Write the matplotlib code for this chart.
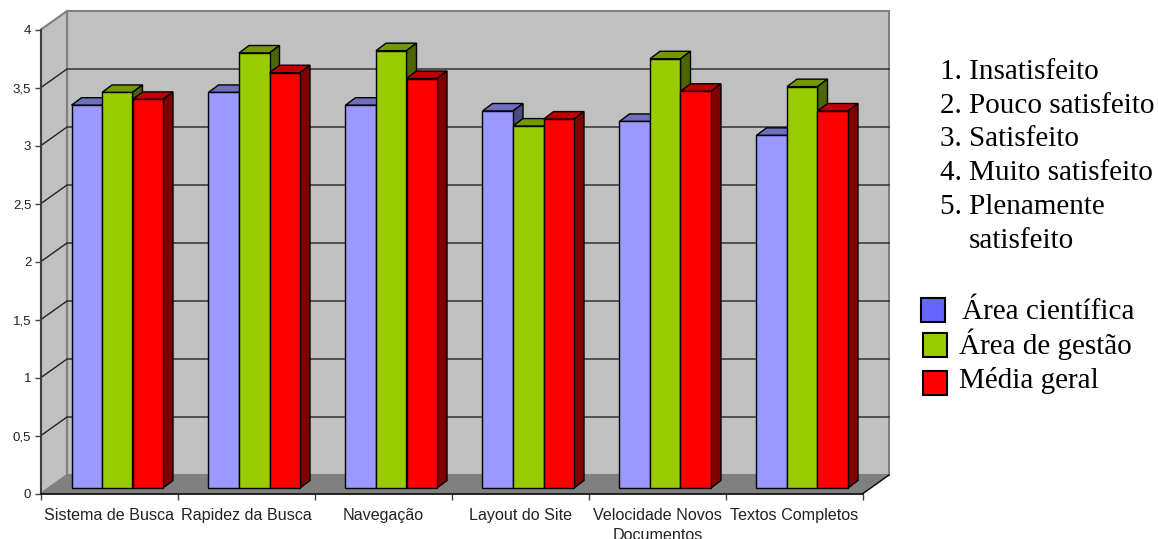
import numpy as np
import matplotlib.pyplot as plt
from matplotlib.patches import Polygon, Rectangle

W, H = 1158, 539

categorias = ['Sistema de Busca', 'Rapidez da Busca', 'Navegação', 'Layout do Site',
              'Velocidade Novos\nDocumentos', 'Textos Completos']
area_cientifica = [3.30, 3.41, 3.30, 3.25, 3.16, 3.04]
area_gestao = [3.41, 3.75, 3.77, 3.12, 3.70, 3.46]
media_geral = [3.35, 3.58, 3.53, 3.18, 3.42, 3.25]
yticks = [0, 0.5, 1, 1.5, 2, 2.5, 3, 3.5, 4]
ylabels = ['0', '0,5', '1', '1,5', '2', '2,5', '3', '3,5', '4']

escala = ['1. Insatisfeito', '2. Pouco satisfeito', '3. Satisfeito', '4. Muito satisfeito', '5. Plenamente']
nomes = ['Área científica', 'Área de gestão', 'Média geral']

# cores: frente, topo, lado
cores = [('#9999FF', '#6F6FBF', '#4C4C80'),
         ('#99CC00', '#749900', '#4D6600'),
         ('#FF0000', '#BF0000', '#800000')]
cores_legenda = ['#6666FF', '#99CC00', '#FF0000']

fig = plt.figure(figsize=(W / 100, H / 100), dpi=100)
ax = fig.add_axes([41 / W, 1 - 493.5 / H, 822 / W, 464 / H])
ax.set_xlim(0, len(categorias))
ax.set_ylim(0, 4)

# profundidade do "3D" em unidades dos dados
px_x = len(categorias) / 822
px_y = 4 / 464
dx, dy = 26 * px_x, 18.5 * px_y
n = len(categorias)

# paredes e chao
ax.add_patch(Polygon([(dx, dy), (n + dx, dy), (n + dx, 4 + dy), (dx, 4 + dy)],
                     fc='#C0C0C0', ec='#808080', lw=1.5, zorder=1, clip_on=False))
ax.add_patch(Polygon([(0, 0), (dx, dy), (dx, 4 + dy), (0, 4)],
                     fc='#C0C0C0', ec='#808080', lw=1.5, zorder=1, clip_on=False))
ax.add_patch(Polygon([(0, 0), (n, 0), (n + dx, dy), (dx, dy)],
                     fc='#808080', ec='none', zorder=2, clip_on=False))
ax.plot([n, n + dx], [0, dy], color='black', lw=1, zorder=2, clip_on=False)

# grade
for v in yticks[1:-1]:
    ax.plot([0, dx, n + dx], [v, v + dy, v + dy], color='#222222', lw=1, zorder=2, clip_on=False)

# barras
largura = 30.5 * px_x
base = 5.5 * px_y
inicio = 30.5 * px_x
prof_x, prof_y = 10 * px_x, 7.5 * px_y
series = [area_cientifica, area_gestao, media_geral]
for s, valores in enumerate(series):
    frente, topo, lado = cores[s]
    x = np.arange(n) + inicio + s * largura
    for xi, v in zip(x, valores):
        ax.add_patch(Polygon([(xi, base + v), (xi + largura, base + v),
                              (xi + largura + prof_x, base + v + prof_y), (xi + prof_x, base + v + prof_y)],
                             fc=topo, ec='black', lw=1, zorder=3 + s, clip_on=False))
        ax.add_patch(Polygon([(xi + largura, base), (xi + largura + prof_x, base + prof_y),
                              (xi + largura + prof_x, base + v + prof_y), (xi + largura, base + v)],
                             fc=lado, ec='black', lw=1, zorder=3 + s, clip_on=False))
    ax.bar(x, valores, width=largura, bottom=base, align='edge', color=frente,
           edgecolor='black', linewidth=1, zorder=3 + s, clip_on=False)

# eixos
for lado_eixo in ['top', 'right']:
    ax.spines[lado_eixo].set_visible(False)
ax.spines['left'].set_color('#404040')
ax.spines['left'].set_linewidth(1.5)
ax.spines['bottom'].set_color('black')
ax.spines['bottom'].set_linewidth(1.2)
ax.spines['left'].set_zorder(8)
ax.spines['bottom'].set_zorder(8)
ax.patch.set_visible(False)

fonte = 'Liberation Sans'
ax.set_yticks(yticks, ylabels, fontfamily=fonte, fontsize=9.5, color='#222222')
ax.tick_params(axis='y', length=4, width=1, color='#404040', pad=3)
ax.set_xticks(np.arange(n + 1), [''] * (n + 1))
ax.tick_params(axis='x', which='major', length=4.5, width=1, color='#404040')
ax.set_xticks(np.arange(n) + 0.5, categorias, minor=True, fontfamily=fonte, fontsize=11.6, color='#222222',
              linespacing=1.4)
ax.tick_params(axis='x', which='minor', length=0, pad=10.5)


def px(x, y):
    return x / W, 1 - y / H


# texto da direita
serif = 'Liberation Serif'
for i, t in enumerate(escala):
    fig.text(*px(940, 78.7 + i * 33.9), t, fontfamily=serif, fontsize=21, color='black')
fig.text(*px(969, 248), 'satisfeito', fontfamily=serif, fontsize=21, color='black')

# legenda
caixas = [(920.5, 298), (922.5, 332.5), (922.5, 370.5)]
pos_nomes = [(962, 319), (959, 353.5), (959, 387.5)]
for i in range(3):
    cx, cy = caixas[i]
    fig.add_artist(Rectangle(px(cx, cy + 24), 24.5 / W, 24 / H, fc=cores_legenda[i], ec='black', lw=1.5,
                             transform=fig.transFigure))
    fig.text(*px(*pos_nomes[i]), nomes[i], fontfamily=serif, fontsize=21, color='black')

fig.savefig('out.png', dpi=100)
